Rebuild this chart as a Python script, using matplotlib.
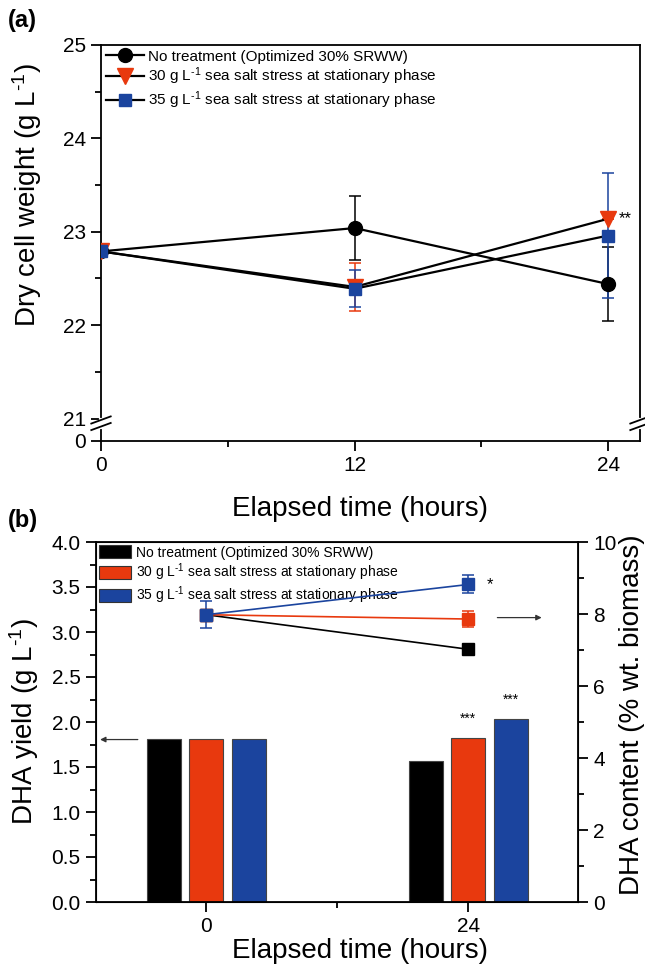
import numpy as np
import matplotlib
matplotlib.use('Agg')
import matplotlib.pyplot as plt
from matplotlib.lines import Line2D
from matplotlib.patches import Patch
from matplotlib.ticker import MultipleLocator, FixedLocator

plt.rcParams['font.family'] = ['Liberation Sans', 'DejaVu Sans']
plt.rcParams['mathtext.fontset'] = 'custom'
plt.rcParams['mathtext.rm'] = 'Liberation Sans'
plt.rcParams['mathtext.default'] = 'regular'

# 色
BLACK = '#000000'
RED = '#E8390E'
BLUE = '#1B449E'

# (a) 乾燥菌体重量
time_a = [0, 12, 24]
dcw_ctrl = [22.79, 23.04, 22.44]
dcw_ctrl_err = [0.0, 0.34, 0.40]
dcw_30 = [22.79, 22.41, 23.14]
dcw_30_err = [0.0, 0.26, 0.0]
dcw_35 = [22.79, 22.39, 22.96]
dcw_35_err = [0.0, 0.20, 0.67]

# (b) DHA 収量（棒）と DHA 含量（線）
cats_b = ['0', '24']
yield_ctrl = [1.81, 1.57]
yield_30 = [1.81, 1.82]
yield_35 = [1.81, 2.03]
content_ctrl = [7.98, 7.02]
content_ctrl_err = [0.0, 0.0]
content_30 = [7.98, 7.86]
content_30_err = [0.0, 0.22]
content_35 = [7.98, 8.82]
content_35_err = [0.37, 0.25]

SUP = 'L$^{\\text{-1}}$'
labels = ['No treatment (Optimized 30% SRWW)',
          f'30 g {SUP} sea salt stress at stationary phase',
          f'35 g {SUP} sea salt stress at stationary phase']

W, H = 645, 969
fig = plt.figure(figsize=(W / 100, H / 100), dpi=100)


def box(l, t, r, b):
    return [l / W, 1 - b / H, (r - l) / W, (b - t) / H]


TICK = 15
LABEL = 20

# ---------------- (a) ----------------
ax = fig.add_axes(box(101, 45, 640, 441))
y0 = 20.76
ax.set_xlim(0, 25.5)
ax.set_ylim(y0, 25)

series_a = [(dcw_ctrl, dcw_ctrl_err, 'o', BLACK, 10),
            (dcw_30, dcw_30_err, 'v', RED, 11),
            (dcw_35, dcw_35_err, 's', BLUE, 9)]
for y, e, m, c, ms in series_a:
    ax.errorbar(time_a, y, yerr=e, color=BLACK, lw=1.6, marker=m, ms=ms,
                mfc=c, mec=c, ecolor=c, elinewidth=1.1, capsize=4,
                capthick=1.1, zorder=3)

ax.text(24.5, dcw_30[2], '**', fontsize=12, va='center', ha='left')

ax.yaxis.set_major_locator(FixedLocator([y0, 21, 22, 23, 24, 25]))
ax.set_yticklabels(['0', '21', '22', '23', '24', '25'])
ax.yaxis.set_minor_locator(FixedLocator([21.5, 22.5, 23.5, 24.5]))
ax.xaxis.set_major_locator(FixedLocator([0, 12, 24]))
ax.xaxis.set_minor_locator(FixedLocator([6, 18]))
ax.tick_params(which='both', direction='out', top=False, right=False,
               width=1.3, labelsize=TICK, pad=4)
ax.tick_params(which='major', length=7)
ax.tick_params(which='minor', length=4)
for s in ax.spines.values():
    s.set_linewidth(1.3)

ax.set_ylabel(f'Dry cell weight (g {SUP})', fontsize=LABEL)
ax.yaxis.set_label_coords(-0.105, 0.62)
ax.set_xlabel('Elapsed time (hours)', fontsize=LABEL)
ax.xaxis.set_label_coords(0.48, -0.14)

# 軸の省略記号
ya, yb = (20.985 - y0) / (25 - y0), (20.915 - y0) / (25 - y0)
for xs in (0, 1):
    ax.plot([xs, xs], [ya, yb], color='white', lw=3, transform=ax.transAxes,
            clip_on=False, zorder=5)
    for yy in (ya, yb):
        ax.plot([xs - 0.018, xs + 0.018], [yy - 0.009, yy + 0.009],
                color=BLACK, lw=1.3, transform=ax.transAxes, clip_on=False,
                zorder=6)

handles_a = [Line2D([], [], color=BLACK, lw=1.6, marker=m, ms=ms, mfc=c, mec=c)
             for _, _, m, c, ms in series_a]
ax.legend(handles_a, labels, loc='upper left', frameon=False, fontsize=11,
          handlelength=2.5, handletextpad=0.3, borderaxespad=0.2,
          borderpad=0.1, labelspacing=0.15)

fig.text(8 / W, 1 - 20 / H, '(a)', fontsize=17, fontweight='bold', va='center')

# ---------------- (b) ----------------
bx = fig.add_axes(box(96, 542, 578, 902))
x = np.arange(len(cats_b))
bw, off = 0.13, 0.162
for i, (vals, c) in enumerate([(yield_ctrl, BLACK), (yield_30, RED),
                               (yield_35, BLUE)]):
    bx.bar(x + (i - 1) * off, vals, width=bw, color=c, edgecolor='#444444',
           linewidth=0.8, zorder=2)
bx.set_xlim(-0.42, 1.418)
bx.set_ylim(0, 4)
bx.set_xticks(x)
bx.set_xticklabels(cats_b)
bx.xaxis.set_minor_locator(FixedLocator([0.5]))
bx.yaxis.set_major_locator(MultipleLocator(0.5))
bx.yaxis.set_minor_locator(MultipleLocator(0.25))
bx.set_yticklabels([f'{v:.1f}' for v in bx.get_yticks()])
bx.tick_params(which='both', direction='out', top=False, right=False,
               width=1.3, labelsize=TICK, pad=4)
bx.tick_params(which='major', length=7)
bx.tick_params(which='minor', length=4)
for s in bx.spines.values():
    s.set_linewidth(1.3)

bx.text(1, yield_30[1] + 0.14, '***', fontsize=10, ha='center', va='bottom')
bx.text(1 + off, yield_35[1] + 0.14, '***', fontsize=10, ha='center',
        va='bottom')

bx.set_ylabel(f'DHA yield (g {SUP})', fontsize=LABEL)
bx.yaxis.set_label_coords(-0.115, 0.5)
bx.set_xlabel('Elapsed time (hours)', fontsize=LABEL)
bx.xaxis.set_label_coords(0.548, -0.1)

handles_b = [Patch(facecolor=c, edgecolor='#333333', linewidth=0.8)
             for c in (BLACK, RED, BLUE)]
bx.legend(handles_b, labels, loc='upper left', frameon=False, fontsize=10,
          handlelength=2.3, handleheight=1.05, handletextpad=0.3,
          borderaxespad=0.15, borderpad=0.1, labelspacing=0.12)

bx.annotate('', xy=(-0.415, 1.805), xytext=(-0.25, 1.805),
            arrowprops=dict(arrowstyle='-|>', color='#333333', lw=0.9,
                            mutation_scale=8))

# 右軸：DHA 含量
br = bx.twinx()
br.set_ylim(0, 10)
for y, e, c in [(content_ctrl, content_ctrl_err, BLACK),
                (content_30, content_30_err, RED),
                (content_35, content_35_err, BLUE)]:
    br.errorbar(x, y, yerr=e, color=c, lw=1.2, marker='s', ms=8, mfc=c,
                mec=c, ecolor=c, elinewidth=1.1, capsize=4, capthick=1.1)
br.text(1.07, content_35[1], '*', fontsize=12, ha='left', va='center')
br.annotate('', xy=(1.29, 7.9), xytext=(1.1, 7.9),
            arrowprops=dict(arrowstyle='-|>', color='#333333', lw=0.9,
                            mutation_scale=8))
br.yaxis.set_major_locator(MultipleLocator(2))
br.yaxis.set_minor_locator(MultipleLocator(1))
br.tick_params(which='both', direction='out', width=1.3, labelsize=TICK, pad=4)
br.tick_params(which='major', length=7)
br.tick_params(which='minor', length=4)
br.set_ylabel('DHA content (% wt. biomass)', fontsize=LABEL)
br.yaxis.set_label_coords(1.085, 0.52)

fig.text(8 / W, 1 - 520 / H, '(b)', fontsize=17, fontweight='bold',
         va='center')

fig.savefig('out.png', dpi=100)
